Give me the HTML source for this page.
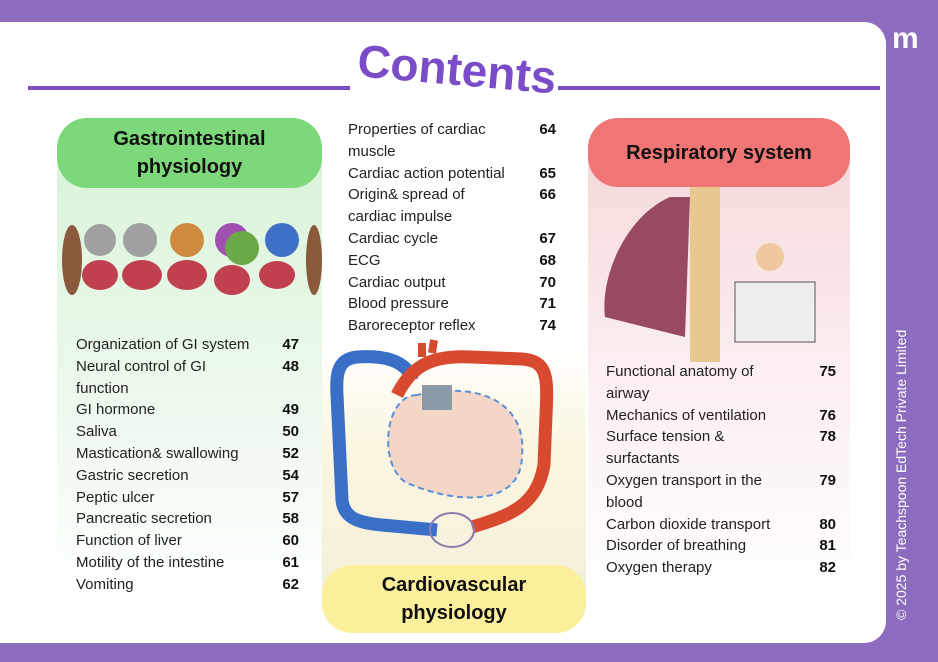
<!DOCTYPE html>
<html><head><meta charset="utf-8"><style>
*{margin:0;padding:0;box-sizing:border-box}
body{width:938px;height:662px;background:#8b6cbe;position:relative;overflow:hidden;font-family:"Liberation Sans",sans-serif;color:#222}
.card{position:absolute;left:0;top:22px;width:886px;height:621px;background:#fff;border-radius:0 22px 22px 0}
.line{position:absolute;height:4px;background:#7b4fc4;top:86px}
.title{position:absolute;left:352px;top:42px;width:210px;text-align:center;font:bold 46px "Liberation Sans",sans-serif;color:#7a4cc8;transform:rotate(5deg);letter-spacing:0px}
.panel{position:absolute;border-radius:30px 30px 0 0}
.hdr{position:absolute;border-radius:30px;font-weight:bold;font-size:20px;text-align:center;color:#111;display:flex;align-items:center;justify-content:center;line-height:28px}
.list{position:absolute;font-size:15px;line-height:21.8px;color:#222}
.row{display:flex;justify-content:space-between}
.row b{font-weight:bold;color:#111}
.copy{position:absolute;left:893px;top:620px;transform-origin:0 0;transform:rotate(-90deg);color:#fff;font-size:14px;white-space:nowrap}
</style></head><body>
<div class="card"></div>
<div class="line" style="left:28px;width:322px"></div>
<div class="line" style="left:558px;width:322px"></div>
<div class="title">Contents</div>
<div style="position:absolute;left:892px;top:22px;color:#fff;font:bold 30px 'Liberation Sans',sans-serif">m</div>

<div class="panel" style="left:57px;top:118px;width:265px;height:490px;background:linear-gradient(#d7f3d6,#eef9ee 60%,#fff)"></div>
<div class="hdr" style="left:57px;top:118px;width:265px;height:70px;background:#7dd87c">Gastrointestinal<br>physiology</div>
<svg style="position:absolute;left:52px;top:210px" width="270" height="110">
<g fill="#8a5a3a"><ellipse cx="20" cy="50" rx="10" ry="35"/><ellipse cx="262" cy="50" rx="8" ry="35"/></g>
<g><circle cx="48" cy="30" r="16" fill="#a0a0a0"/><circle cx="88" cy="30" r="17" fill="#a0a0a0"/><circle cx="135" cy="30" r="17" fill="#d08a40"/><circle cx="180" cy="30" r="17" fill="#a050b0"/><circle cx="230" cy="30" r="17" fill="#3e70c8"/><circle cx="190" cy="38" r="17" fill="#6aa848"/></g>
<g fill="#c04050"><ellipse cx="48" cy="65" rx="18" ry="15"/><ellipse cx="90" cy="65" rx="20" ry="15"/><ellipse cx="135" cy="65" rx="20" ry="15"/><ellipse cx="180" cy="70" rx="18" ry="15"/><ellipse cx="225" cy="65" rx="18" ry="14"/></g>
</svg>
<div class="list" style="left:76px;top:334px;width:223px">
<div class="row"><span>Organization of GI system</span><b>47</b></div>
<div class="row"><span>Neural control of GI<br>function</span><b>48</b></div>
<div class="row"><span>GI hormone</span><b>49</b></div>
<div class="row"><span>Saliva</span><b>50</b></div>
<div class="row"><span>Mastication&amp; swallowing</span><b>52</b></div>
<div class="row"><span>Gastric secretion</span><b>54</b></div>
<div class="row"><span>Peptic ulcer</span><b>57</b></div>
<div class="row"><span>Pancreatic secretion</span><b>58</b></div>
<div class="row"><span>Function of liver</span><b>60</b></div>
<div class="row"><span>Motility of the intestine</span><b>61</b></div>
<div class="row"><span>Vomiting</span><b>62</b></div>
</div>

<div class="list" style="left:348px;top:119px;width:208px">
<div class="row"><span>Properties of cardiac<br>muscle</span><b>64</b></div>
<div class="row"><span>Cardiac action potential</span><b>65</b></div>
<div class="row"><span>Origin&amp; spread of<br>cardiac impulse</span><b>66</b></div>
<div class="row"><span>Cardiac cycle</span><b>67</b></div>
<div class="row"><span>ECG</span><b>68</b></div>
<div class="row"><span>Cardiac output</span><b>70</b></div>
<div class="row"><span>Blood pressure</span><b>71</b></div>
<div class="row"><span>Baroreceptor reflex</span><b>74</b></div>
</div>
<div style="position:absolute;left:322px;top:340px;width:264px;height:270px;background:linear-gradient(#fff 0%,#fbf6e0 40%,#f3efdc)"></div>
<svg style="position:absolute;left:322px;top:335px" width="264" height="240">
<path d="M90 45 C85 25 60 20 35 22 C15 24 14 40 15 60 L20 165 C22 185 40 188 60 190 L115 195" fill="none" stroke="#3a6fc8" stroke-width="13"/>
<path d="M75 60 C90 30 110 20 150 22 L200 24 C225 26 226 40 224 80 L222 130 C215 170 190 180 150 192" fill="none" stroke="#d84a30" stroke-width="13"/>
<path d="M110 18 L112 5 M100 22 L100 8" stroke="#d84a30" stroke-width="8"/>
<path d="M95 60 C60 60 55 140 90 150 C140 170 200 170 200 120 C205 70 160 45 95 60Z" fill="#f4d6c6" stroke="#5a90d8" stroke-dasharray="6 4" stroke-width="2"/>
<rect x="100" y="50" width="30" height="25" fill="#8a9aa8"/>
<ellipse cx="130" cy="195" rx="22" ry="17" fill="none" stroke="#8a7ab0" stroke-width="2"/>
</svg>
<div class="hdr" style="left:322px;top:565px;width:264px;height:68px;background:#fcef9c">Cardiovascular<br>physiology</div>

<div class="panel" style="left:588px;top:118px;width:262px;height:490px;background:linear-gradient(#f5d5d5,#fbeef0 50%,#fff)"></div>
<div class="hdr" style="left:588px;top:118px;width:262px;height:69px;background:#f07575">Respiratory system</div>
<svg style="position:absolute;left:595px;top:187px" width="250" height="175">
<path d="M75 10 C30 30 5 90 10 130 L90 150 L95 10Z" fill="#9a4a60"/>
<rect x="95" y="0" width="30" height="175" fill="#e8c890"/>
<circle cx="175" cy="70" r="14" fill="#f0c8a0"/>
<rect x="140" y="95" width="80" height="60" fill="#eee" stroke="#555"/>
</svg>
<div class="list" style="left:606px;top:361px;width:230px">
<div class="row"><span>Functional anatomy of<br>airway</span><b>75</b></div>
<div class="row"><span>Mechanics of ventilation</span><b>76</b></div>
<div class="row"><span>Surface tension &amp;<br>surfactants</span><b>78</b></div>
<div class="row"><span>Oxygen transport in the<br>blood</span><b>79</b></div>
<div class="row"><span>Carbon dioxide transport</span><b>80</b></div>
<div class="row"><span>Disorder of breathing</span><b>81</b></div>
<div class="row"><span>Oxygen therapy</span><b>82</b></div>
</div>
<div class="copy">© 2025 by Teachspoon EdTech Private Limited</div>
</body></html>
